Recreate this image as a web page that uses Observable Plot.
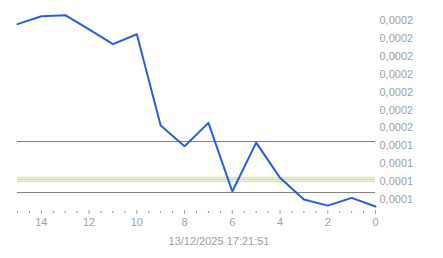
<!DOCTYPE html>
<html><head><meta charset="utf-8">
<script src="https://cdn.jsdelivr.net/npm/d3@7"></script>
<script src="https://cdn.jsdelivr.net/npm/@observablehq/plot@0.6"></script>
<style>
body{margin:0;background:#fff;font-family:"Liberation Sans",Arial,sans-serif;}
#chart svg{display:block;}
#caption{width:443px;height:26px;line-height:18px;text-align:center;font-size:11px;color:#a0a0a0;padding-right:5px;box-sizing:border-box;}
</style></head><body>
<div id="chart"></div>
<div id="caption"></div>
<script>
const xs = [15,14,13,12,11,10,9,8,7,6,5,4,3,2,1,0];
const values = [0.000208,0.0002124,0.000213,0.000205,0.0001968,0.0002023,0.0001513,0.0001398,0.0001528,0.0001145,0.0001418,0.0001221,0.00011,0.0001066,0.0001109,0.0001061];
const yTicks = [0.00011,0.00012,0.00013,0.00014,0.00015,0.00016,0.00017,0.00018,0.00019,0.0002,0.00021];
const yTickLabels = ["0,0001","0,0001","0,0001","0,0001","0,0002","0,0002","0,0002","0,0002","0,0002","0,0002","0,0002"];
const xTicks = [14,12,10,8,6,4,2,0];
const xTickLabels = ["14","12","10","8","6","4","2","0"];
const xMinorTicks = [0.5,1,1.5,2.5,3,3.5,4.5,5,5.5,6.5,7,7.5,8.5,9,9.5,10.5,11,11.5,12.5,13,13.5,14.5,15];
const grayLevels = [0.0001424, 0.0001139];
const bandLevels = [0.0001223, 0.0001212, 0.0001201];
const bandColors = ["#ebe08c", "#c2e2a2", "#cde8bb"];
const caption = "13/12/2025 17:21:51";

const data = xs.map((x, i) => ({x, v: values[i]}));
const bands = bandLevels.map((v, i) => ({v, c: bandColors[i]}));

const chart = Plot.plot({
  width: 443,
  height: 232,
  marginLeft: 17,
  marginRight: 68,
  marginTop: 9,
  marginBottom: 22,
  style: {fontFamily: '"Liberation Sans", Arial, sans-serif', fontSize: "11px", color: "#a0a0a0", background: "#fff"},
  x: {domain: [15, 0], range: [17, 375]},
  y: {domain: [0.00010386, 0.00021615]},
  marks: [
    Plot.ruleY(bands, {y: "v", stroke: "c", strokeWidth: 1.4}),
    Plot.ruleY(grayLevels, {stroke: "#808080", strokeWidth: 1}),
    Plot.line(data, {x: "x", y: "v", stroke: "#2b5cd6", strokeWidth: 2}),
    Plot.axisX(xMinorTicks, {tickSize: 2, dy: 1, text: null, stroke: "#8c8c8c", strokeOpacity: 1, label: null}),
    Plot.axisX(xTicks, {tickSize: 4, tickPadding: 4, stroke: "#a0a0a0", strokeOpacity: 1, fill: "#a0a0a0", tickFormat: (d) => xTickLabels[xTicks.indexOf(d)], label: null}),
    Plot.axisY(yTicks, {anchor: "right", tickSize: 0, tickPadding: 4, fill: "#a0a0a0", tickFormat: (d) => yTickLabels[yTicks.indexOf(d)], label: null})
  ]
});
document.getElementById("chart").appendChild(chart);
document.getElementById("caption").textContent = caption;
</script>
</body></html>
